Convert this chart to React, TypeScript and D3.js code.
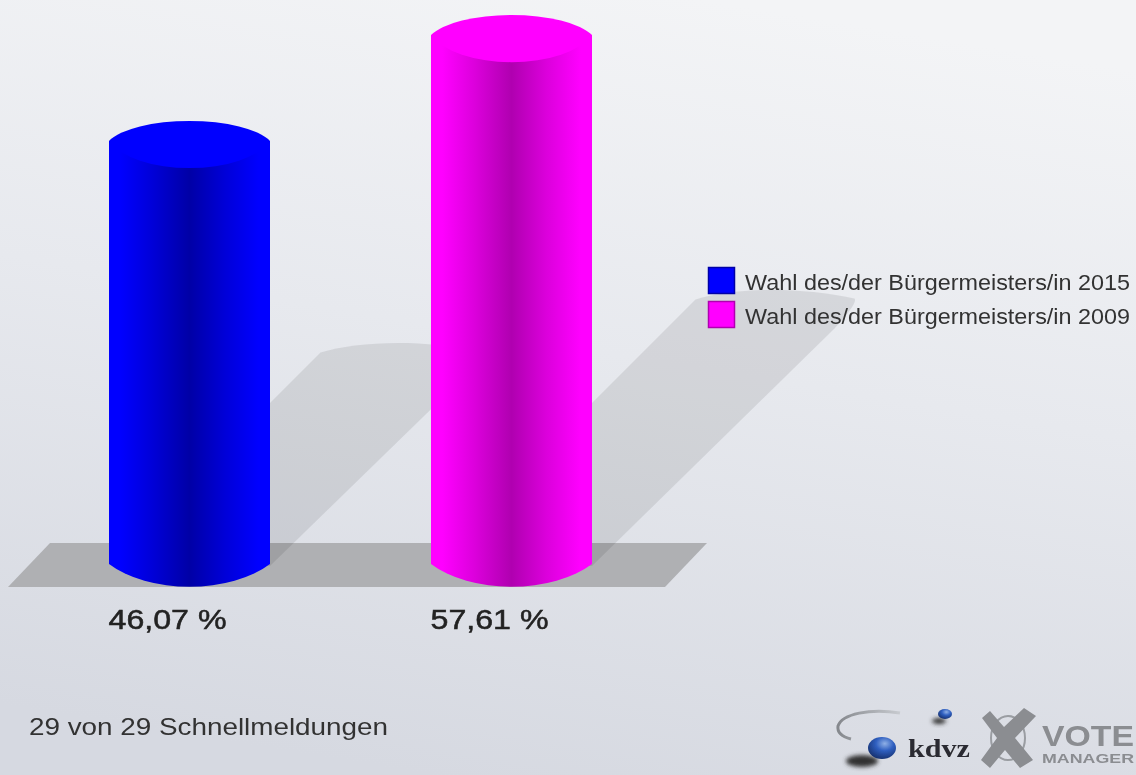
import React from "react";
import * as d3 from "d3";

const categories = ["Wahl des/der Bürgermeisters/in 2015", "Wahl des/der Bürgermeisters/in 2009"];
const values = [46.07, 57.61];
const valueLabels = ["46,07 %", "57,61 %"];
const colors = ["#0000ff", "#ff00ff"];
const darkColors = ["#0000a6", "#b000b0"];
const midColors = ["#0000d8", "#dc00dc"];
const footerText = "29 von 29 Schnellmeldungen";

const W = 1136;
const H = 775;
const baseY = 564;

const x = d3.scalePoint<string>().domain(categories).range([189.5, 511.5]);
const y = d3.scaleLinear().domain([0, 57.61]).range([baseY, 35]);
const rx = 80.5;

function cylinderBody(cx: number, top: number) {
  const p = d3.path();
  p.moveTo(cx - rx, top);
  p.lineTo(cx + rx, top);
  p.lineTo(cx + rx, baseY);
  return p.toString() + ` A100 56 0 0 1 ${cx - rx} ${baseY} Z`;
}
function cylinderCap(cx: number, top: number) {
  return `M${cx - rx} ${top} A85 29.5 0 0 1 ${cx + rx} ${top} A85 40 0 0 1 ${cx - rx} ${top} Z`;
}
function shadowPath(cx: number, top: number) {
  const t = (baseY - top) * 0.5;
  const L = cx - rx;
  const R = cx + rx;
  const by = baseY;
  return [
    `M${L} ${by}`,
    `L${L + t} ${by - t}`,
    `C${L + t + 35} ${by - t - 11} ${R + t - 60} ${by - t - 14} ${R + t - 2} ${by - t - 1}`,
    `Q${R + t + 2} ${by - t + 3} ${R + t - 22} ${by - t + 29}`,
    `L${R} ${by + 2}`,
    "Z",
  ].join(" ");
}

export default function App() {
  const sans = "'Liberation Sans', Arial, sans-serif";
  return (
    <svg width={W} height={H} viewBox={`0 0 ${W} ${H}`} style={{ position: "absolute", left: 0, top: 0, display: "block" }}>
      <defs>
        <linearGradient id="bg" x1="0.62" y1="0" x2="0.38" y2="1">
          <stop offset="0" stopColor="#f3f4f6" />
          <stop offset="0.45" stopColor="#e7e9ee" />
          <stop offset="1" stopColor="#d6d9e1" />
        </linearGradient>
        {categories.map((c, i) => (
          <linearGradient id={`cyl${i}`} key={c} x1="0" y1="0" x2="1" y2="0">
            <stop offset="0" stopColor={colors[i]} />
            <stop offset="0.07" stopColor={colors[i]} />
            <stop offset="0.27" stopColor={midColors[i]} />
            <stop offset="0.5" stopColor={darkColors[i]} />
            <stop offset="0.72" stopColor={midColors[i]} />
            <stop offset="0.93" stopColor={colors[i]} />
            <stop offset="1" stopColor={colors[i]} />
          </linearGradient>
        ))}
        <radialGradient id="sphere" cx="0.6" cy="0.3" r="0.8">
          <stop offset="0" stopColor="#8fb0e6" />
          <stop offset="0.4" stopColor="#2f5fc0" />
          <stop offset="1" stopColor="#12285f" />
        </radialGradient>
        <linearGradient id="swoosh" x1="1" y1="0" x2="0" y2="0">
          <stop offset="0" stopColor="#c8cbd0" />
          <stop offset="1" stopColor="#85888d" />
        </linearGradient>
        <filter id="soft" x="-5%" y="-20%" width="110%" height="140%">
          <feGaussianBlur stdDeviation="0.6" />
        </filter>
        <filter id="softer" x="-30%" y="-60%" width="160%" height="220%">
          <feGaussianBlur stdDeviation="2.2" />
        </filter>
      </defs>
      <rect width={W} height={H} fill="url(#bg)" />

      <path d="M8 587 L665 587 L707 543 L50 543 Z" fill="#afb0b3" />
      {categories.map((c, i) => (
        <path key={c} d={shadowPath(x(c)!, y(values[i]))} fill="#000" fillOpacity={0.085} />
      ))}

      {categories.map((c, i) => {
        const cx = x(c)!;
        const top = y(values[i]);
        return (
          <g key={c}>
            <path d={cylinderBody(cx, top)} fill={`url(#cyl${i})`} />
            <path d={cylinderCap(cx, top)} fill={colors[i]} />
          </g>
        );
      })}

      <g filter="url(#soft)">
        {categories.map((c, i) => (
          <g key={c}>
            <rect
              x={708.5}
              y={267.5 + i * 34}
              width={26}
              height={26}
              fill={colors[i]}
              stroke={darkColors[i]}
              strokeWidth={1.5}
            />
            <text x={745} y={290 + i * 33.5} fontFamily={sans} fontSize={22} fill="#333" textLength={385} lengthAdjust="spacingAndGlyphs">
              {c}
            </text>
          </g>
        ))}
        {categories.map((c, i) => (
          <text
            key={c}
            x={x(c)! - 81}
            y={629}
            fontFamily={sans}
            fontSize={27}
            fill="#222"
            stroke="#222"
            strokeWidth={0.5}
            textLength={118}
            lengthAdjust="spacingAndGlyphs"
          >
            {valueLabels[i]}
          </text>
        ))}
        <text x={29} y={735} fontFamily={sans} fontSize={24} fill="#333" textLength={359} lengthAdjust="spacingAndGlyphs">
          {footerText}
        </text>
      </g>

      <g filter="url(#soft)">
        <path d="M900 713 C870 708 842 714 838 726 C837 733 843 737 851 739" fill="none" stroke="url(#swoosh)" strokeWidth={3} />
        <ellipse cx={862} cy={761} rx={16} ry={6} fill="#333" filter="url(#softer)" />
        <ellipse cx={882} cy={748} rx={14} ry={11} fill="url(#sphere)" />
        <ellipse cx={939} cy={721} rx={7} ry={3} fill="#333" filter="url(#softer)" />
        <ellipse cx={945} cy={714} rx={7} ry={5} fill="url(#sphere)" />
        <text x={908} y={757} fontFamily="'Liberation Serif', serif" fontWeight={700} fontSize={25} fill="#2c2c30" textLength={62} lengthAdjust="spacingAndGlyphs">
          kdvz
        </text>
        <ellipse cx={1008} cy={738} rx={17} ry={22} fill="none" stroke="#9a9da2" strokeWidth={2} />
        <path d="M990 711 L1004 727 L1024 708 L1036 716 L1015 738 L1033 760 L1020 768 L1005 750 L990 768 L981 760 L997 738 L982 718 Z" fill="#8b8d91" />
        <text x={1042} y={746} fontFamily={sans} fontWeight={700} fontSize={30} fill="#8b8d91" textLength={92} lengthAdjust="spacingAndGlyphs">
          VOTE
        </text>
        <text x={1042} y={763} fontFamily={sans} fontWeight={700} fontSize={12} fill="#8b8d91" textLength={92} lengthAdjust="spacingAndGlyphs">
          MANAGER
        </text>
      </g>
    </svg>
  );
}
